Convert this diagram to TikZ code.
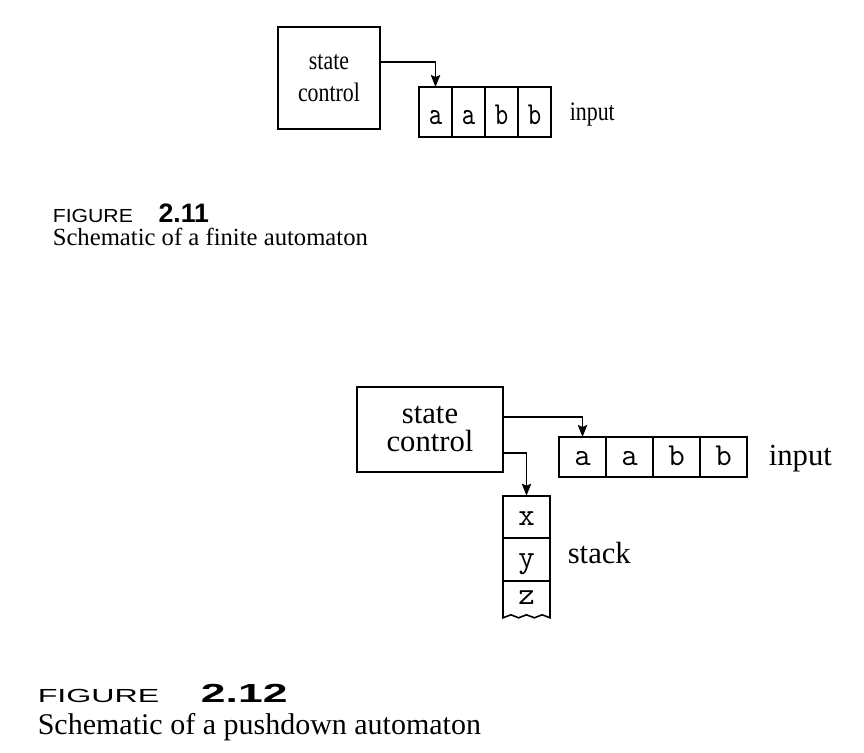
\documentclass[tikz,border=0pt]{standalone}
\usepackage{fontspec}
\setmainfont{Liberation Serif}
\newfontfamily\narrowserif[FakeStretch=0.82]{Liberation Serif}
\newfontfamily\narrowmono[FakeStretch=0.8]{lmmono10-regular.otf}
\newfontfamily\figfont[FakeStretch=1.12]{Liberation Sans}
\newfontfamily\figwide[FakeStretch=1.7]{Liberation Sans}
\usetikzlibrary{arrows.meta,positioning}

\begin{document}
\begin{tikzpicture}[x=0.75pt, y=-0.75pt, line width=1.2pt,
  >={Stealth[length=9pt, width=7pt, inset=1.5pt]},
  ctrlA/.style={draw, minimum width=76.5pt, minimum height=76.5pt, align=center,
    font=\narrowserif\fontsize{20}{24}\selectfont},
  ctrlB/.style={draw, minimum width=109.5pt, minimum height=63.75pt, align=center,
    font=\fontsize{23}{21}\selectfont},
  cellA/.style={draw, inner sep=0pt, outer sep=0pt, minimum width=24.75pt,
    minimum height=37.5pt, text height=18pt, text depth=0pt,
    font=\narrowmono\fontsize{24}{26}\selectfont},
  cellB/.style={draw, inner sep=0pt, outer sep=0pt, minimum width=35.25pt,
    minimum height=30pt, text height=12pt, text depth=0pt,
    font=\ttfamily\fontsize{24}{26}\selectfont},
  lbl/.style={inner sep=0pt, anchor=base west}]
  \useasboundingbox (0,0) rectangle (864,753);

  % finite automaton
  \node[ctrlA] (scA) at (329,78) {state\\control};
  \node[cellA] (inA1) at (435.5,112) {a};
  \node[cellA, right=0pt of inA1] (inA2) {a};
  \node[cellA, right=0pt of inA2] (inA3) {b};
  \node[cellA, right=0pt of inA3] (inA4) {b};
  \node[lbl, font=\narrowserif\fontsize{20}{24}\selectfont]
    (inAl) at ([xshift=13.5pt, yshift=-6pt]inA4.east) {input};
  \draw[->] ([yshift=12pt]scA.east) -| (inA1.north);

  \node[lbl, font=\figfont\fontsize{14.2}{16}\selectfont] (figA) at (52,222) {FIGURE};
  \node[lbl, font=\fontspec{Liberation Sans}\bfseries\fontsize{20}{22}\selectfont]
    (numA) at ([xshift=18pt]figA.base east) {2.11};
  \node[lbl, font=\fontsize{18.5}{22}\selectfont] (capA) at (52,245)
    {Schematic of a finite automaton};

  % pushdown automaton
  \node[ctrlB] (scB) at (430,429.5) {state\\control};
  \node[cellB] (inB1) at (582.5,457) {a};
  \node[cellB, right=0pt of inB1] (inB2) {a};
  \node[cellB, right=0pt of inB2] (inB3) {b};
  \node[cellB, right=0pt of inB3] (inB4) {b};
  \node[lbl, font=\fontsize{23}{26}\selectfont]
    (inBl) at ([xshift=15.75pt, yshift=-6pt]inB4.east) {input};

  \node[cellB, minimum height=31.9pt] (stx) at (526.5,517) {x};
  \node[cellB, minimum height=31.9pt, below=0pt of stx] (sty) {y};
  \node[cellB, draw=none, minimum height=27.75pt, text height=8.3pt, below=0pt of sty]
    (stz) {z};
  \draw (stz.north west) -- (stz.south west)
    \foreach \k in {1,2,3} {cos ++(3.917,-1.5) sin ++(3.917,-1.5) cos ++(3.917,1.5) sin ++(3.917,1.5)}
    -- (stz.north east);
  \node[lbl, font=\fontsize{23}{26}\selectfont]
    (stl) at ([xshift=12.75pt, yshift=-2.6pt]sty.east) {stack};

  \draw[->] ([yshift=9.4pt]scB.east) -| (inB1.north);
  \draw[->] ([yshift=-17.6pt]scB.east) -| (stx.north);

  \node[lbl, font=\figwide\fontsize{14.2}{16}\selectfont] (figB) at (37,702) {FIGURE};
  \node[lbl, font=\figwide\bfseries\fontsize{19.6}{22}\selectfont]
    (numB) at ([xshift=30pt]figB.base east) {2.12};
  \node[lbl, font=\fontsize{22.5}{26}\selectfont] (capB) at (37,734)
    {Schematic of a pushdown automaton};
\end{tikzpicture}
\end{document}
